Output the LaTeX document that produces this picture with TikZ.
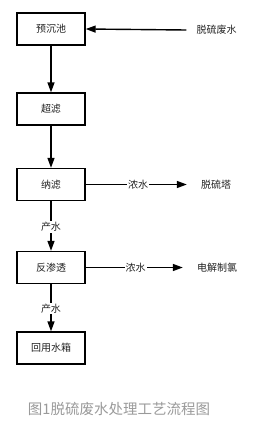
\documentclass[tikz,border=0pt]{standalone}
\usepackage{fontspec}
\setmainfont{Noto Sans CJK SC}
\usepackage{xcolor}
\usetikzlibrary{arrows.meta,positioning}
\definecolor{capGray}{HTML}{9A9A9A}
\definecolor{txtDark}{HTML}{222222}

\begin{document}
\begin{tikzpicture}[x=1pt, y=-1pt, every node/.style={font=\fontsize{10}{12}\selectfont, text=txtDark},
    stage/.style={draw, line width=1.4pt, minimum width=68pt, minimum height=32pt, inner sep=0pt},
    flow/.style={line width=1.4pt, -{Triangle[length=10pt,width=7pt]}},
    tag/.style={fill=white, inner sep=1pt}]
    \useasboundingbox (0,0) rectangle (269,426);

    % === Process stages (left column) ===
    \node[stage] (presettle) at (51,29)    {预沉池};
    \node[stage] (ultra)     at (51,109)   {超滤};
    \node[stage] (nano)      at (51,184.5) {纳滤};
    \node[stage] (ro)        at (51,267.5) {反渗透};
    \node[stage] (tank)      at (51,348)   {回用水箱};

    % === Inlet / outlets (right column) ===
    \node[inner sep=0pt] (inlet) at (216.5,30)  {脱硫废水};
    \node[inner sep=0pt] (tower) at (216,184.5) {脱硫塔};
    \node[inner sep=0pt] (chlor) at (217,267.5) {电解制氯};

    % === Main flow ===
    \draw[flow] (inlet.west) ++(-10,0) -- (presettle.east);
    \draw[flow] (presettle) -- (ultra);
    \draw[flow] (ultra) -- (nano);
    \draw[flow] (nano) -- node[tag, pos=0.52] {产水} (ro);
    \draw[flow] (ro) -- node[tag, pos=0.52] {产水} (tank);

    % === Concentrate streams ===
    \draw[flow, shorten >=14pt] (nano) -- node[tag, pos=0.455] {浓水} (tower);
    \draw[flow, shorten >=14pt] (ro) -- node[tag, pos=0.45] {浓水} (chlor);

    % === Caption ===
    \node[font=\fontsize{14.5}{17}\selectfont, text=capGray] (caption) at (119,409) {图1脱硫废水处理工艺流程图};
\end{tikzpicture}
\end{document}
